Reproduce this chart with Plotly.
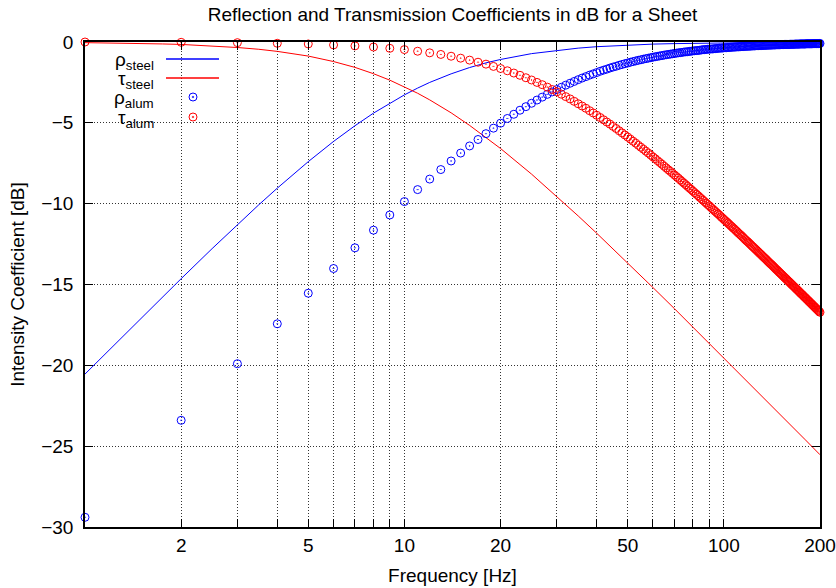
import plotly.graph_objects as go

# ---------------- data ----------------
freq_steel = [1, 1.25, 1.5, 1.75, 2, 2.5, 3, 3.5, 4, 5, 6, 7, 8, 9, 10, 11, 12, 14, 16, 18,
              20, 25, 30, 35, 40, 50, 60, 70, 80, 90, 100, 120, 140, 160, 180, 200]
rho_steel = [-20.54, -18.63, -17.07, -15.76, -14.64, -12.78, -11.30, -10.07, -9.04, -7.40,
             -6.15, -5.18, -4.40, -3.78, -3.27, -2.85, -2.50, -1.97, -1.58, -1.29,
             -1.08, -0.72, -0.51, -0.38, -0.29, -0.19, -0.13, -0.10, -0.08, -0.06,
             -0.05, -0.034, -0.025, -0.019, -0.015, -0.012]
tau_steel = [-0.04, -0.06, -0.09, -0.12, -0.15, -0.24, -0.34, -0.45, -0.58, -0.87,
             -1.21, -1.57, -1.96, -2.36, -2.77, -3.17, -3.58, -4.38, -5.16, -5.89,
             -6.59, -8.17, -9.55, -10.76, -11.83, -13.66, -15.19, -16.49, -17.63, -18.64,
             -19.54, -21.11, -22.44, -23.60, -24.61, -25.53]

freq_alum = list(range(1, 201))
rho_alum = [
    -29.40, -23.40, -19.90, -17.43, -15.54, -14.01, -12.73, -11.64, -10.70, -9.87,
    -9.13, -8.48, -7.89, -7.36, -6.87, -6.43, -6.03, -5.67, -5.33, -5.02,
    -4.73, -4.47, -4.22, -4.00, -3.79, -3.59, -3.41, -3.24, -3.09, -2.94,
    -2.80, -2.67, -2.55, -2.44, -2.33, -2.23, -2.14, -2.05, -1.97, -1.89,
    -1.81, -1.74, -1.68, -1.61, -1.55, -1.50, -1.44, -1.39, -1.34, -1.30,
    -1.25, -1.21, -1.17, -1.13, -1.10, -1.06, -1.03, -1.00, -0.97, -0.94,
    -0.91, -0.89, -0.86, -0.84, -0.81, -0.79, -0.77, -0.75, -0.73, -0.71,
    -0.69, -0.67, -0.66, -0.64, -0.62, -0.61, -0.60, -0.58, -0.57, -0.55,
    -0.54, -0.53, -0.52, -0.51, -0.49, -0.48, -0.47, -0.46, -0.45, -0.44,
    -0.43, -0.43, -0.42, -0.41, -0.40, -0.39, -0.38, -0.38, -0.37, -0.36,
    -0.35, -0.35, -0.34, -0.34, -0.33, -0.32, -0.32, -0.31, -0.31, -0.30,
    -0.30, -0.29, -0.29, -0.28, -0.28, -0.27, -0.27, -0.26, -0.26, -0.26,
    -0.25, -0.25, -0.24, -0.24, -0.24, -0.23, -0.23, -0.23, -0.22, -0.22,
    -0.22, -0.21, -0.21, -0.21, -0.20, -0.20, -0.20, -0.19, -0.19, -0.19,
    -0.19, -0.18, -0.18, -0.18, -0.18, -0.17, -0.17, -0.17, -0.17, -0.17,
    -0.16, -0.16, -0.16, -0.16, -0.15, -0.15, -0.15, -0.15, -0.15, -0.15,
    -0.14, -0.14, -0.14, -0.14, -0.14, -0.14, -0.13, -0.13, -0.13, -0.13,
    -0.13, -0.13, -0.12, -0.12, -0.12, -0.12, -0.12, -0.12, -0.12, -0.12,
    -0.11, -0.11, -0.11, -0.11, -0.11, -0.11, -0.11, -0.11, -0.11, -0.10,
    -0.10, -0.10, -0.10, -0.10, -0.10, -0.10, -0.10, -0.10, -0.09, -0.09,
]
tau_alum = [
    -0.00, -0.02, -0.04, -0.08, -0.12, -0.18, -0.24, -0.31, -0.39, -0.47,
    -0.57, -0.67, -0.77, -0.88, -1.00, -1.12, -1.25, -1.37, -1.51, -1.64,
    -1.78, -1.92, -2.06, -2.21, -2.35, -2.50, -2.64, -2.79, -2.94, -3.08,
    -3.23, -3.38, -3.52, -3.67, -3.82, -3.96, -4.10, -4.25, -4.39, -4.53,
    -4.67, -4.81, -4.95, -5.08, -5.22, -5.35, -5.49, -5.62, -5.75, -5.88,
    -6.01, -6.14, -6.26, -6.39, -6.51, -6.63, -6.75, -6.87, -6.99, -7.11,
    -7.22, -7.34, -7.45, -7.56, -7.68, -7.79, -7.90, -8.00, -8.11, -8.22,
    -8.32, -8.42, -8.53, -8.63, -8.73, -8.83, -8.93, -9.03, -9.12, -9.22,
    -9.32, -9.41, -9.50, -9.60, -9.69, -9.78, -9.87, -9.96, -10.05, -10.13,
    -10.22, -10.31, -10.39, -10.48, -10.56, -10.64, -10.72, -10.81, -10.89, -10.97,
    -11.05, -11.12, -11.20, -11.28, -11.36, -11.43, -11.51, -11.58, -11.66, -11.73,
    -11.81, -11.88, -11.95, -12.02, -12.09, -12.17, -12.24, -12.31, -12.37, -12.44,
    -12.51, -12.58, -12.65, -12.71, -12.78, -12.84, -12.91, -12.97, -13.04, -13.10,
    -13.16, -13.23, -13.29, -13.35, -13.41, -13.47, -13.54, -13.60, -13.66, -13.72,
    -13.77, -13.83, -13.89, -13.95, -14.01, -14.07, -14.12, -14.18, -14.24, -14.29,
    -14.35, -14.40, -14.46, -14.51, -14.57, -14.62, -14.67, -14.73, -14.78, -14.83,
    -14.88, -14.94, -14.99, -15.04, -15.09, -15.14, -15.19, -15.24, -15.29, -15.34,
    -15.39, -15.44, -15.49, -15.54, -15.59, -15.63, -15.68, -15.73, -15.78, -15.82,
    -15.87, -15.92, -15.96, -16.01, -16.06, -16.10, -16.15, -16.19, -16.24, -16.28,
    -16.33, -16.37, -16.42, -16.46, -16.50, -16.55, -16.59, -16.63, -16.68, -16.72,
]

x_major = [2, 5, 10, 20, 50, 100, 200]
x_minor = [3, 4, 6, 7, 8, 9, 30, 40, 60, 70, 80, 90]
y_tickvals = [-30, -25, -20, -15, -10, -5, 0]

legend_labels = ["ρ<sub>steel</sub>", "τ<sub>steel</sub>", "ρ<sub>alum</sub>", "τ<sub>alum</sub>"]

# ---------------- style ----------------
BLUE = "#0000ff"
RED = "#ff0000"
FONT = "Liberation Sans, Arial, Helvetica, sans-serif"
FS = 19
GRID = "#333333"
GDASH = "1px,2px"

W, H = 836, 588
L, R, T, B = 85, 820, 42, 527   # plot-area edges in pixels


def px_x(p):
    return (p - L) / (R - L)


def px_y(p):
    return (B - p) / (B - T)


fig = go.Figure()
fig.add_trace(go.Scatter(x=freq_steel, y=rho_steel, mode="lines",
                         line=dict(color=BLUE, width=1), showlegend=False))
fig.add_trace(go.Scatter(x=freq_steel, y=tau_steel, mode="lines",
                         line=dict(color=RED, width=1), showlegend=False))
fig.add_trace(go.Scatter(x=freq_alum, y=rho_alum, mode="markers", cliponaxis=False,
                         marker=dict(symbol="circle-open-dot", size=8, color=BLUE,
                                     line=dict(width=1, color=BLUE)), showlegend=False))
fig.add_trace(go.Scatter(x=freq_alum, y=tau_alum, mode="markers", cliponaxis=False,
                         marker=dict(symbol="circle-open-dot", size=8, color=RED,
                                     line=dict(width=1, color=RED)), showlegend=False))

shapes = []
shapes.append(dict(type="rect", xref="paper", yref="paper", layer="between",
                   x0=px_x(86), x1=px_x(232), y0=px_y(127), y1=px_y(50),
                   fillcolor="white", line=dict(width=0)))
legend_y = [59, 78, 97, 117]
for yy, col in zip(legend_y[:2], [BLUE, RED]):
    shapes.append(dict(type="line", xref="paper", yref="paper", layer="above",
                       x0=px_x(166), x1=px_x(219), y0=px_y(yy), y1=px_y(yy),
                       line=dict(color=col, width=1.5)))
for yy, col in zip(legend_y[2:], [BLUE, RED]):
    shapes.append(dict(type="circle", xref="paper", yref="paper", layer="above",
                       xsizemode="pixel", ysizemode="pixel",
                       xanchor=px_x(193), yanchor=px_y(yy),
                       x0=-4, x1=4, y0=-4, y1=4, line=dict(color=col, width=1)))
    shapes.append(dict(type="circle", xref="paper", yref="paper", layer="above",
                       xsizemode="pixel", ysizemode="pixel",
                       xanchor=px_x(193), yanchor=px_y(yy),
                       x0=-0.8, x1=0.8, y0=-0.8, y1=0.8, fillcolor=col,
                       line=dict(color=col, width=0.5)))

annotations = []
for yy, lab in zip(legend_y, legend_labels):
    annotations.append(dict(text=lab, xref="paper", yref="paper", x=px_x(156), y=px_y(yy + 2),
                            xanchor="right", yanchor="middle", showarrow=False,
                            font=dict(family=FONT, size=FS, color="black")))

fig.update_layout(
    width=W, height=H,
    margin=dict(l=L, r=W - R, t=T, b=H - B, autoexpand=False),
    paper_bgcolor="white", plot_bgcolor="white",
    font=dict(family=FONT, size=FS, color="black"),
    title=dict(text="Reflection and Transmission Coefficients in dB for a Sheet",
               x=(L + R) / 2 / W, xanchor="center",
               y=1 - 14 / H, yanchor="middle",
               font=dict(family=FONT, size=FS), automargin=False),
    shapes=shapes,
    annotations=annotations,
    showlegend=False,
)

fig.update_xaxes(
    type="log", range=[0, 2.30103], automargin=False,
    tickmode="array", tickvals=x_major, ticktext=[str(v) for v in x_major],
    ticks="inside", ticklen=8, tickcolor="black", tickwidth=1,
    minor=dict(tickmode="array", tickvals=x_minor, ticks="inside", ticklen=8,
               tickcolor="black", tickwidth=1, showgrid=True, gridcolor=GRID,
               griddash=GDASH, gridwidth=1),
    showline=True, linecolor="black", linewidth=1.5, mirror="ticks",
    showgrid=True, gridcolor=GRID, griddash=GDASH, gridwidth=1,
    zeroline=False,
    title=dict(text="Frequency [Hz]", standoff=14, font=dict(family=FONT, size=FS)),
    tickfont=dict(family=FONT, size=FS),
)
fig.update_yaxes(
    range=[-30, 0], tickvals=y_tickvals, automargin=False,
    ticks="inside", ticklen=8, tickcolor="black", tickwidth=1,
    showline=True, linecolor="black", linewidth=1.5, mirror="ticks",
    showgrid=True, gridcolor=GRID, griddash=GDASH, gridwidth=1,
    zeroline=False,
    title=dict(text="Intensity Coefficient [dB]", standoff=12, font=dict(family=FONT, size=FS)),
    tickfont=dict(family=FONT, size=FS),
    ticklabelstandoff=6,
)

fig.write_html(
    "out.html",
    config={"displayModeBar": False},
    post_script="document.body.style.margin='0';document.body.style.overflow='hidden';",
)
